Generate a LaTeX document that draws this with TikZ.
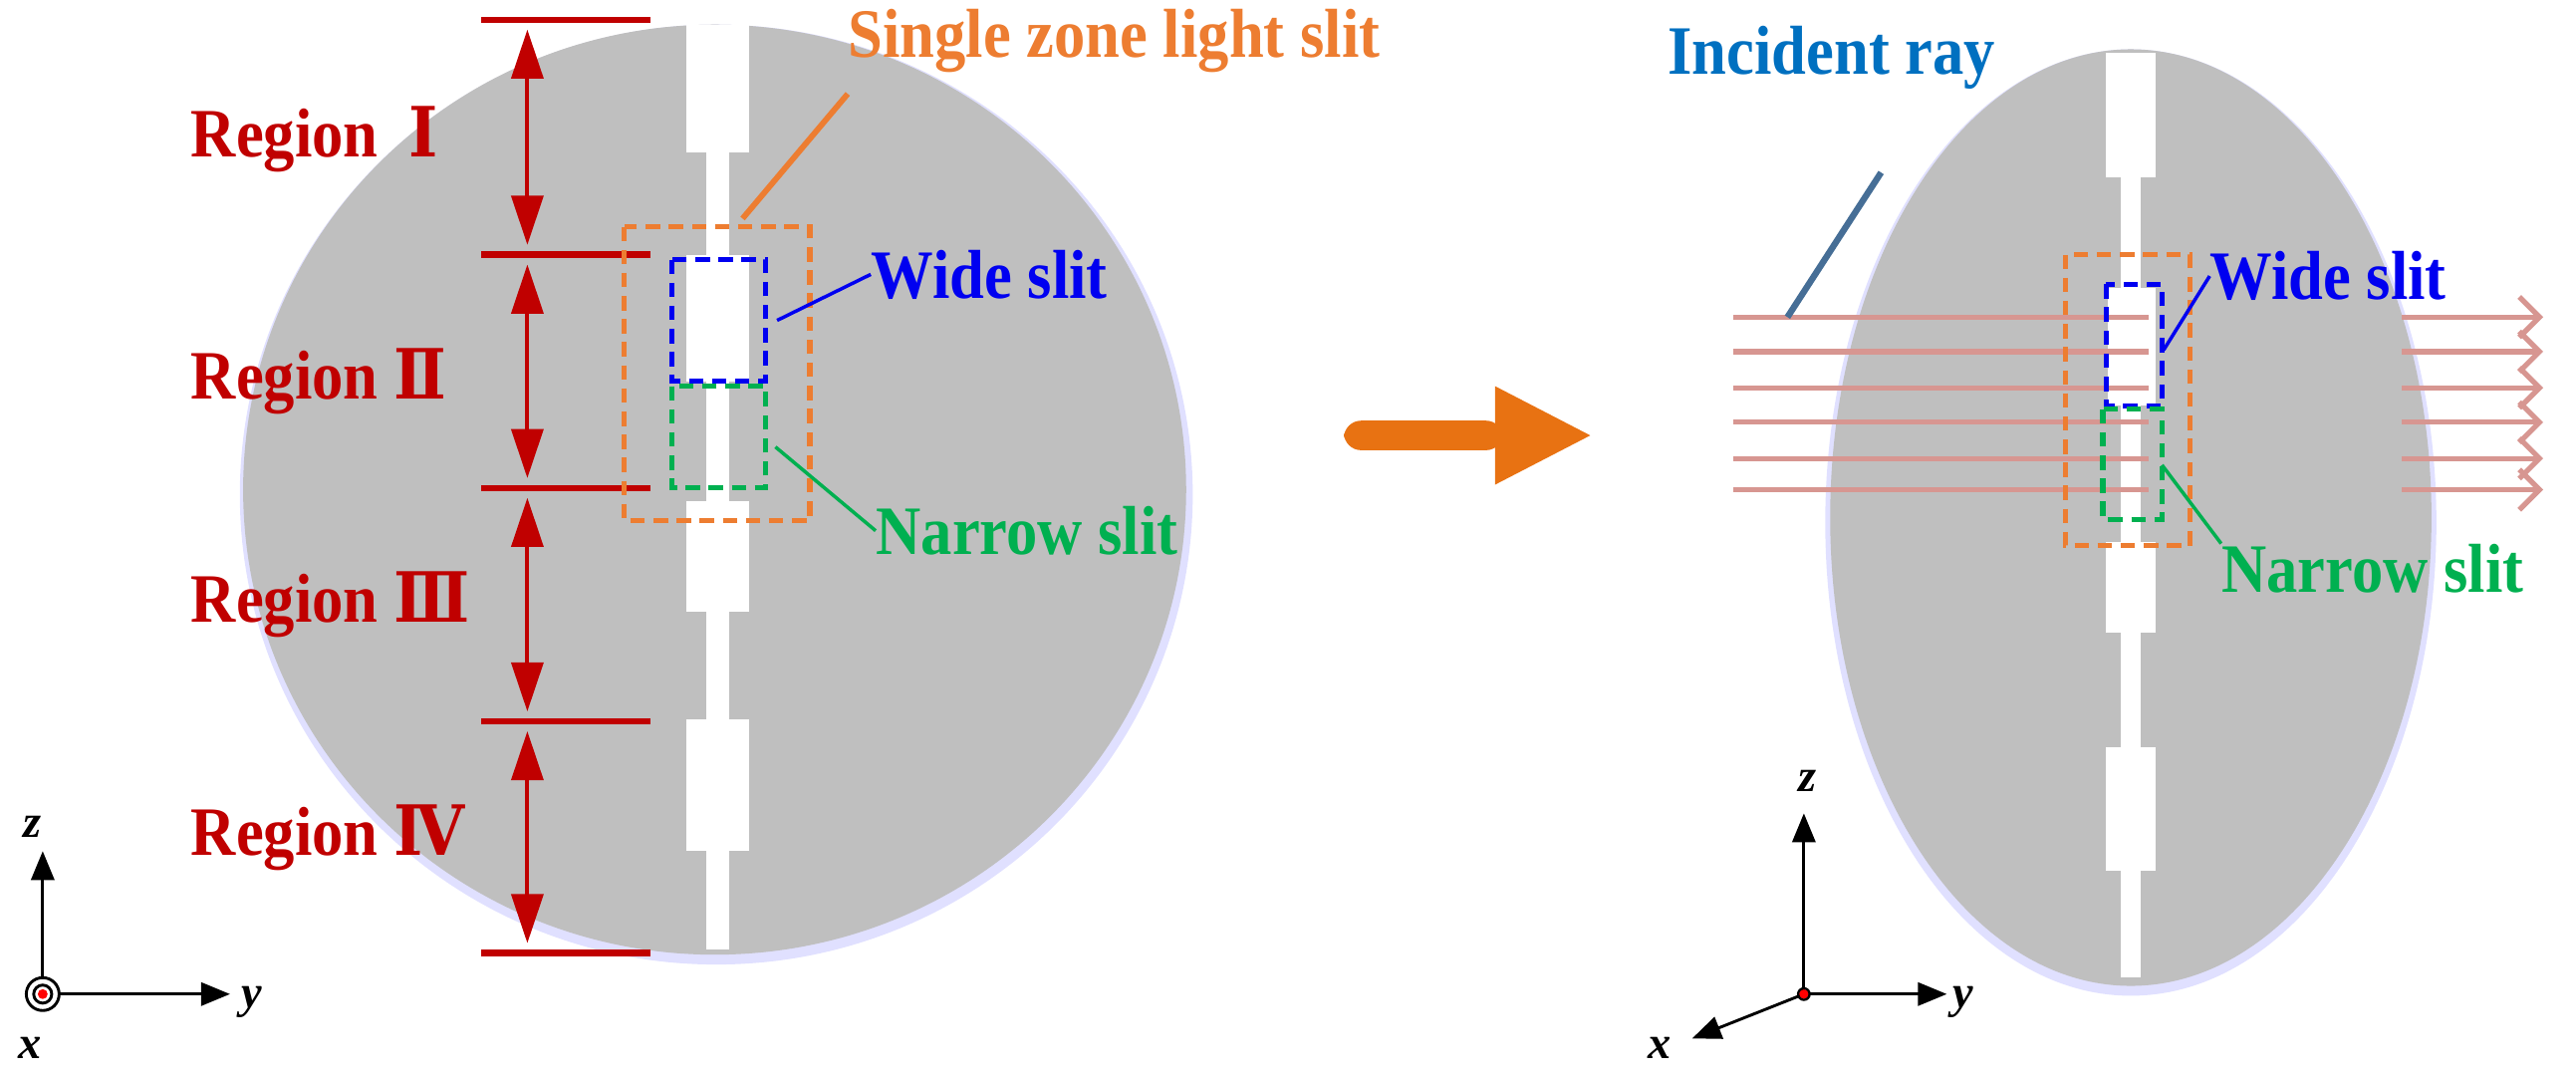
\documentclass[tikz,border=0pt]{standalone}
\usepackage{fontspec}
\setmainfont{Liberation Serif}
\newfontfamily\dvs{DejaVu Serif}
\usetikzlibrary{arrows.meta}
\definecolor{disk}{RGB}{191,191,191}
\definecolor{rred}{RGB}{192,0,0}
\definecolor{oran}{RGB}{237,125,49}
\definecolor{oarrow}{RGB}{232,114,18}
\definecolor{bblue}{RGB}{0,0,240}
\definecolor{ggreen}{RGB}{0,176,80}
\definecolor{iblue}{RGB}{0,112,192}
\definecolor{lblue}{RGB}{70,110,150}
\definecolor{ray}{RGB}{215,150,145}
\tikzset{
 lbl/.style={font=\bfseries\fontsize{24}{28}\selectfont, inner sep=0pt, xscale=0.9},
 slitw/.style={fill=white, draw=none},
 sep/.style={rred, line width=2.2pt},
 dim/.style={rred, line width=1.4pt, {Triangle[length=17pt,width=11pt]}-{Triangle[length=17pt,width=11pt]}},
 dbox/.style={line width=1.8pt, dash pattern=on 5pt off 3pt},
 lead/.style={line width=1.2pt},
 ax/.style={line width=1pt, -{Triangle[length=10pt,width=8pt]}},
 axl/.style={font=\itshape\bfseries\fontsize{16}{18}\selectfont, inner sep=0pt},
 rayl/.style={ray, line width=1.8pt},
}
\begin{document}
\begin{tikzpicture}[x=0.02cm,y=-0.02cm]
\useasboundingbox (0,0) rectangle (1568,655);
% left disk
\fill[blue!12] (436,301) ellipse [x radius=290, y radius=286];
\fill[disk] (435,298) ellipse [x radius=287, y radius=283];
\fill[slitw] (418,15) rectangle (456,93);
\fill[slitw] (430,93) rectangle (444,155);
\fill[slitw] (418,155) rectangle (456,232);
\fill[slitw] (430,232) rectangle (444,305);
\fill[slitw] (418,305) rectangle (456,372);
\fill[slitw] (430,372) rectangle (444,438);
\fill[slitw] (418,438) rectangle (456,518);
\fill[slitw] (430,518) rectangle (444,578);
% separators
\foreach \n/\yy in {s0/12,s1/155,s2/297,s3/439,s4/580}{
 \draw[sep] (293,\yy) -- (396,\yy);
 \coordinate (\n) at (321,\yy);}
\draw[dim] ([yshift=-0.12cm]s0) -- ([yshift=0.12cm]s1);
\draw[dim] ([yshift=-0.12cm]s1) -- ([yshift=0.12cm]s2);
\draw[dim] ([yshift=-0.12cm]s2) -- ([yshift=0.12cm]s3);
\draw[dim] ([yshift=-0.12cm]s3) -- ([yshift=0.12cm]s4);
\node[lbl, rred, anchor=west] (r1) at (116,85) {Region\ \ {\dvs Ⅰ}};
\node[lbl, rred, anchor=west] (r2) at (116,232) {Region {\dvs Ⅱ}};
\node[lbl, rred, anchor=west] (r3) at (116,368) {Region {\dvs Ⅲ}};
\node[lbl, rred, anchor=west] (r4) at (116,510) {Region {\dvs Ⅳ}};
% boxes
\draw[dbox, oran] (380,138) rectangle (493,317);
\draw[dbox, bblue] (409,158) rectangle (466,232);
\draw[dbox, ggreen] (409,235) rectangle (466,297);
\node[lbl, oran, anchor=west] (single) at (516,25) {Single zone light slit};
\node[lbl, bblue, anchor=west] (wide1) at (530,167) {Wide slit};
\node[lbl, ggreen, anchor=west] (nar1) at (533,323) {Narrow slit};
\coordinate (c1) at (452,133);
\coordinate (c2) at (473,195);
\coordinate (c3) at (472,272);
\draw[lead, oran, line width=2pt] (c1) -- ([yshift=-0.25cm]single.south west);
\draw[lead, bblue] (c2) -- (wide1.west);
\draw[lead, ggreen] (c3) -- (nar1.west);
% left axes
\coordinate (o1) at (26,605);
\coordinate (z1) at (26,518);
\coordinate (y1) at (140,605);
\draw[ax] (o1) -- (z1);
\draw[ax] (o1) -- (y1);
\draw[line width=1pt, fill=white] (o1) circle (10);
\draw[line width=1pt] (o1) circle (5.5);
\fill[red] (o1) circle (3);
\node[axl] (zl1) at (20,503) {z};
\node[axl] (yl1) at (153,610) {y};
\node[axl] (xl1) at (18,638) {x};
% big arrow
\fill[oarrow, rounded corners=6pt] (818,256) rectangle (915,274);
\fill[oarrow] (910,235) -- (968,265) -- (910,295) -- cycle;
% right disk
\fill[blue!12] (1297,318) ellipse [x radius=186, y radius=288];
\fill[disk] (1297,315) ellipse [x radius=183, y radius=285];
\fill[slitw] (1282,32) rectangle (1312,108);
\fill[slitw] (1291,108) rectangle (1303,175);
\fill[slitw] (1283,175) rectangle (1312,247);
\fill[slitw] (1291,247) rectangle (1303,330);
\fill[slitw] (1282,330) rectangle (1312,385);
\fill[slitw] (1291,385) rectangle (1303,455);
\fill[slitw] (1282,455) rectangle (1312,530);
\fill[slitw] (1291,530) rectangle (1303,595);
% rays
\foreach \i/\yy in {1/193,2/214,3/236,4/257,5/279,6/298}{
 \coordinate (ra\i) at (1055,\yy);
 \coordinate (rb\i) at (1308,\yy);
 \coordinate (rc\i) at (1462,\yy);
 \coordinate (rd\i) at (1548,\yy);
 \draw[rayl] (ra\i) -- (rb\i);
 \draw[rayl, -{Straight Barb[length=7pt,width=14pt]}] (rc\i) -- (rd\i);}
\draw[dbox, oran] (1257,155) rectangle (1333,332);
\draw[dbox, bblue] (1282,173) rectangle (1316,247);
\draw[dbox, ggreen] (1280,249) rectangle (1316,316);
\node[lbl, iblue, anchor=west] (inc) at (1015,35) {Incident ray};
\node[lbl, bblue, anchor=west] (wide2) at (1345,168) {Wide slit};
\node[lbl, ggreen, anchor=west] (nar2) at (1352,346) {Narrow slit};
\coordinate (c4) at (1145,105);
\coordinate (c5) at (1088,193);
\coordinate (c6) at (1317,213);
\coordinate (c7) at (1316,283);
\draw[lblue, line width=2.2pt] (c4) -- (c5);
\draw[lead, bblue] (c6) -- (wide2.west);
\draw[lead, ggreen] (c7) -- (nar2.north west);
% right axes
\coordinate (o2) at (1098,605);
\coordinate (z2) at (1098,495);
\coordinate (y2) at (1185,605);
\coordinate (x2) at (1030,632);
\draw[ax] (o2) -- (z2);
\draw[ax] (o2) -- (y2);
\draw[ax] (o2) -- (x2);
\fill[red] (o2) circle (3);
\draw[line width=0.8pt] (o2) circle (3.5);
\node[axl] (zl2) at (1100,475) {z};
\node[axl] (yl2) at (1195,610) {y};
\node[axl] (xl2) at (1010,638) {x};
\end{tikzpicture}
\end{document}
